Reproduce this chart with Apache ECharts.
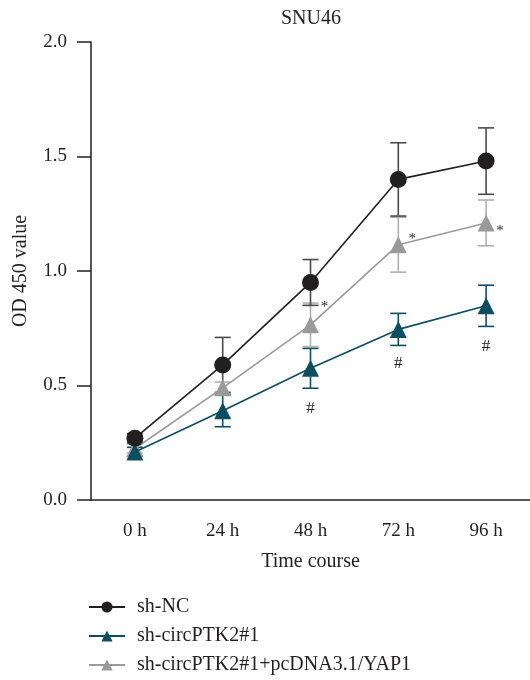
<!DOCTYPE html>
<html>
<head>
<meta charset="utf-8">
<script src="https://cdn.jsdelivr.net/npm/echarts@6/dist/echarts.min.js"></script>
<style>html,body{margin:0;padding:0;background:#fff}#c{width:530px;height:680px}</style>
</head>
<body>
<div id="c"></div>
<script>
const categories = ['0 h', '24 h', '48 h', '72 h', '96 h'];
const yTicks = [0, 0.5, 1.0, 1.5, 2.0];
const seriesNames = ['sh-NC', 'sh-circPTK2#1', 'sh-circPTK2#1+pcDNA3.1/YAP1'];
const ncMean = [0.27, 0.59, 0.95, 1.40, 1.48];
const ncErr = [0.02, 0.12, 0.10, 0.16, 0.145];
const ptkMean = [0.21, 0.39, 0.575, 0.745, 0.848];
const ptkErr = [0.02, 0.07, 0.087, 0.07, 0.09];
const yapMean = [0.225, 0.49, 0.765, 1.115, 1.21];
const yapErr = [0.02, 0.025, 0.095, 0.12, 0.10];
const starMarks = [null, null, 0.843, 1.14, 1.175];
const hashMarks = [null, null, 0.40, 0.594, 0.668];

const FONT = '"Liberation Serif", "DejaVu Serif", serif';
const cNC = '#231f20', cPTK = '#0c4e61', cYAP = '#9a9a9a';

function errData(mean, err) {
  return mean.map((m, i) => [i, m - err[i], m + err[i]]);
}
function errSeries(name, mean, err, color) {
  return {
    type: 'custom', name: name, z: 1,
    data: errData(mean, err),
    renderItem: function (params, api) {
      const lo = api.coord([api.value(0), api.value(1)]);
      const hi = api.coord([api.value(0), api.value(2)]);
      const w = 8;
      const st = { stroke: color, lineWidth: 1.6 };
      return { type: 'group', children: [
        { type: 'line', shape: { x1: lo[0], y1: lo[1], x2: hi[0], y2: hi[1] }, style: st },
        { type: 'line', shape: { x1: lo[0] - w, y1: lo[1], x2: lo[0] + w, y2: lo[1] }, style: st },
        { type: 'line', shape: { x1: hi[0] - w, y1: hi[1], x2: hi[0] + w, y2: hi[1] }, style: st }
      ]};
    }
  };
}
function markSeries(name, vals, text, dx, size) {
  return {
    type: 'custom', name: name, z: 5,
    data: vals.map((v, i) => v == null ? null : [i, v]).filter(d => d),
    renderItem: function (params, api) {
      const p = api.coord([api.value(0), api.value(1)]);
      return { type: 'text', x: p[0] + dx, y: p[1],
        style: { text: text, fill: cNC, font: size + 'px ' + FONT, align: 'center', verticalAlign: 'middle' } };
    }
  };
}
function legendFor(name, top) {
  return {
    data: [name], orient: 'vertical', left: 88, top: top, padding: 0,
    itemWidth: 36, itemHeight: 14,
    textStyle: { fontFamily: FONT, fontSize: 20, color: cNC, padding: [0, 0, 0, 7] }
  };
}

const chart = echarts.init(document.getElementById('c'), null, { renderer: 'canvas' });
chart.setOption({
  animation: false,
  backgroundColor: '#fff',
  title: { text: 'SNU46', left: 276, top: 4,
    textStyle: { fontFamily: FONT, fontSize: 20, fontWeight: 'normal', color: cNC } },
  grid: { left: 91, right: 0, top: 42, bottom: 180 },
  legend: [legendFor(seriesNames[0], 597), legendFor(seriesNames[1], 626), legendFor(seriesNames[2], 655)],
  xAxis: {
    type: 'category', data: categories, boundaryGap: true,
    name: 'Time course', nameLocation: 'middle', nameGap: 52,
    nameTextStyle: { fontFamily: FONT, fontSize: 20, color: cNC },
    axisLine: { lineStyle: { color: cNC, width: 1.5 } },
    axisTick: { alignWithLabel: true, length: 13, lineStyle: { color: cNC, width: 1.5 } },
    axisLabel: { margin: 22, fontFamily: FONT, fontSize: 19, color: cNC },
    splitLine: { show: false }
  },
  yAxis: {
    type: 'value', min: yTicks[0], max: yTicks[yTicks.length - 1], interval: 0.5,
    name: 'OD 450 value', nameLocation: 'middle', nameGap: 60, nameRotate: 90,
    nameTextStyle: { fontFamily: FONT, fontSize: 20, color: cNC },
    axisLine: { show: true, lineStyle: { color: cNC, width: 1.5 } },
    axisTick: { show: true, length: 14, lineStyle: { color: cNC, width: 1.5 } },
    axisLabel: { margin: 24, fontFamily: FONT, fontSize: 19, color: cNC, formatter: v => v.toFixed(1) },
    splitLine: { show: false }
  },
  series: [
    errSeries('errYAP', yapMean, yapErr, '#b0b0b0'),
    errSeries('errPTK', ptkMean, ptkErr, cPTK),
    errSeries('errNC', ncMean, ncErr, '#4a4a4a'),
    { type: 'line', name: seriesNames[2], data: yapMean, z: 2,
      symbol: 'triangle', symbolSize: 17, itemStyle: { color: cYAP },
      lineStyle: { color: cYAP, width: 1.6 } },
    { type: 'line', name: seriesNames[1], data: ptkMean, z: 3,
      symbol: 'triangle', symbolSize: 17, itemStyle: { color: cPTK },
      lineStyle: { color: cPTK, width: 1.6 } },
    { type: 'line', name: seriesNames[0], data: ncMean, z: 4,
      symbol: 'circle', symbolSize: 17, itemStyle: { color: cNC },
      lineStyle: { color: cNC, width: 1.6 } },
    markSeries('stars', starMarks, '*', 14, 15),
    markSeries('hashes', hashMarks, '#', 0, 17)
  ]
});
</script>
</body>
</html>
